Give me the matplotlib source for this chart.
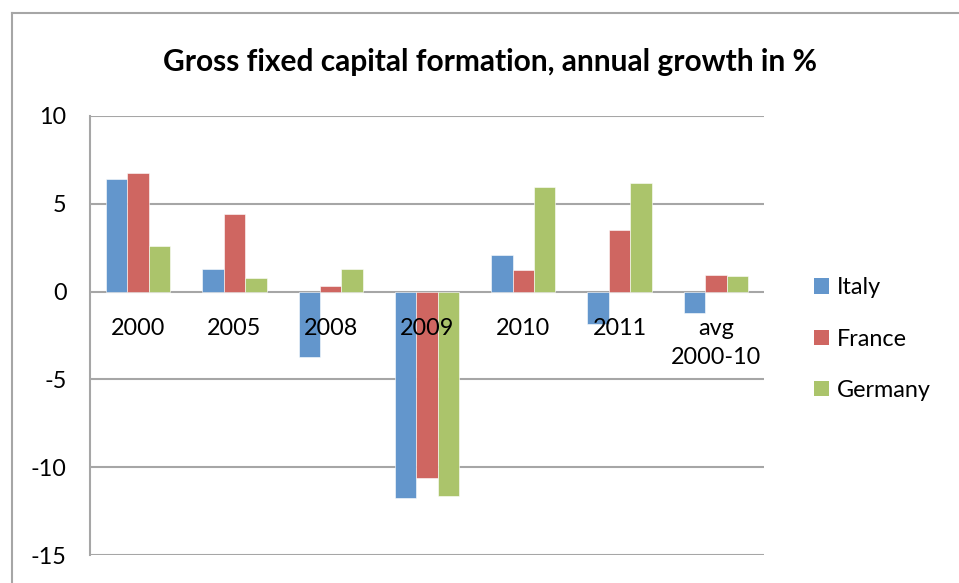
import matplotlib
matplotlib.use("Agg")
import matplotlib.pyplot as plt
import numpy as np
from matplotlib.lines import Line2D
from matplotlib.patches import Patch

categories = ["2000", "2005", "2008", "2009", "2010", "2011", "avg\n2000-10"]
italy = [6.38, 1.27, -3.73, -11.76, 2.10, -1.87, -1.24]
france = [6.76, 4.39, 0.30, -10.58, 1.22, 3.50, 0.92]
germany = [2.60, 0.76, 1.27, -11.63, 5.92, 6.17, 0.86]
yticks = [-15, -10, -5, 0, 5, 10]

series = [("Italy", italy, "#6396CC"), ("France", france, "#CF6661"), ("Germany", germany, "#ABC46B")]

plt.rcParams["font.family"] = ["Lato", "DejaVu Sans"]
W, H = 959, 583
fs = 16.8
fig = plt.figure(figsize=(W / 100, H / 100), dpi=100)
ax = fig.add_axes([90 / W, 1 - 555.3 / H, (764 - 90) / W, (555.3 - 115.7) / H])

x = np.arange(len(categories))
bw = 1 / 4.5
for k, (name, vals, col) in enumerate(series):
    ax.bar(x + (k - 1) * bw, vals, bw, color=col, edgecolor="white", linewidth=0.4, zorder=3, label=name)

ax.set_xlim(-0.5, len(categories) - 0.5)
ax.set_ylim(-15, 10)
ax.set_yticks(yticks)
ax.set_yticklabels([str(t) for t in yticks])
ax.yaxis.grid(True, color="#A6A6A6", linewidth=1.5, zorder=0)
ax.set_xticks([])
ax.tick_params(axis="y", length=0, pad=17, labelsize=fs)
for s in ("top", "right", "bottom"):
    ax.spines[s].set_visible(False)
ax.spines["left"].set_color("#A6A6A6")
ax.spines["left"].set_linewidth(1.5)

for i, lab in enumerate(categories):
    ax.annotate(lab, xy=(i, 0), xytext=(0, -19), textcoords="offset points",
                ha="center", va="top", fontsize=fs, linespacing=1.5, zorder=4)

fig.text(490 / W, 1 - 62 / H, "Gross fixed capital formation, annual growth in %",
         ha="center", va="center", fontsize=21.5, fontweight="bold")

handles = [Patch(facecolor=c, edgecolor="none") for _, _, c in series]
fig.legend(handles, [n for n, _, _ in series], loc="center left",
           bbox_to_anchor=(793 / W, 1 - 339 / H), frameon=False, fontsize=fs,
           handlelength=0.65, handleheight=0.65, handletextpad=0.35, labelspacing=1.3)

fig.add_artist(Line2D([12 / W, 12 / W], [1 - 13 / H, 0], color="#A6A6A6", linewidth=1.5))
fig.add_artist(Line2D([12 / W, 1], [1 - 13 / H, 1 - 13 / H], color="#A6A6A6", linewidth=1.5))

fig.savefig("out.png", dpi=100, facecolor="white")
